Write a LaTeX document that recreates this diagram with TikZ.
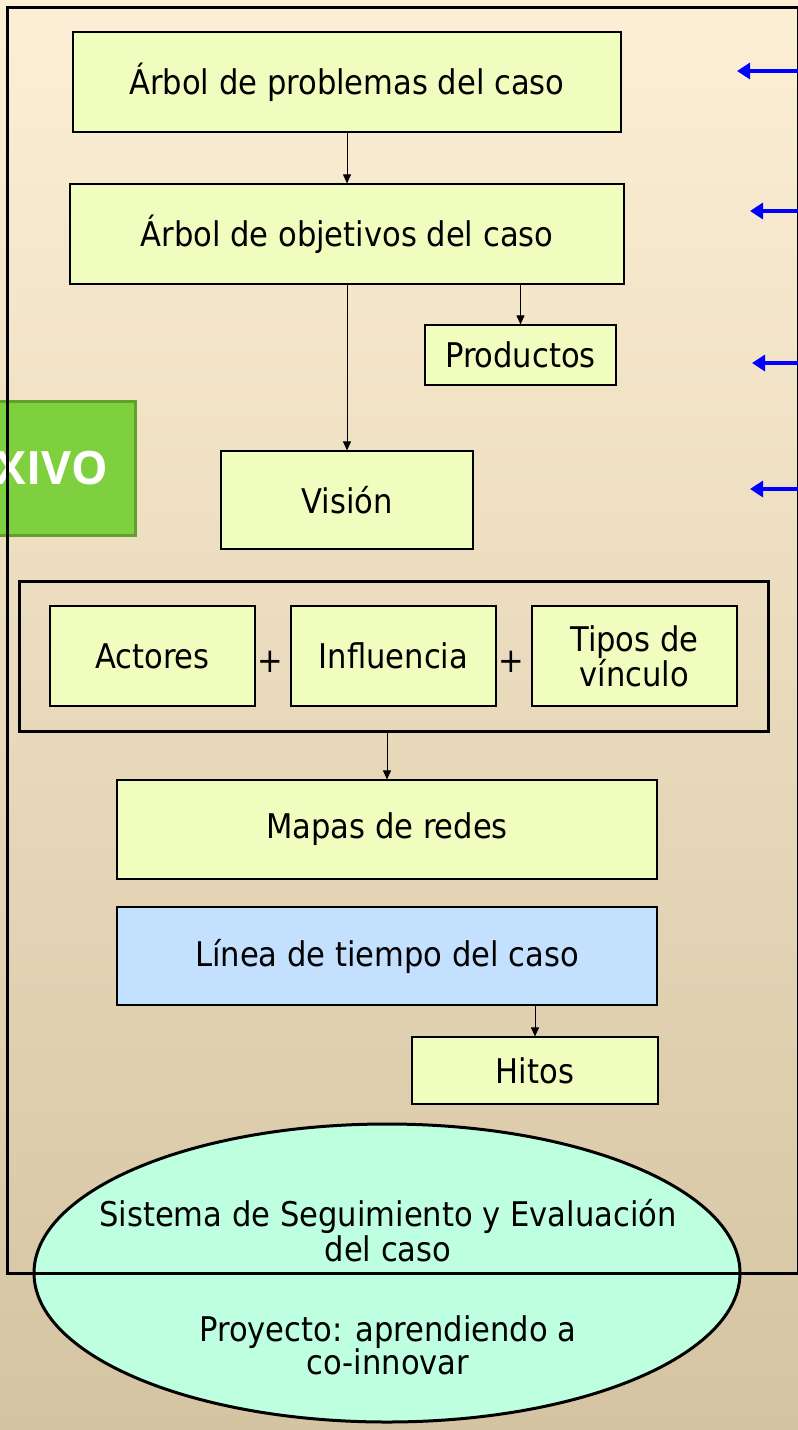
\documentclass[tikz,border=0pt]{standalone}
\usepackage{fontspec}
\setmainfont{DejaVu Sans Condensed}
\newfontfamily\greenfont{Open Sans}
\usetikzlibrary{arrows.meta,shapes.geometric}
\definecolor{bgtop}{RGB}{253,239,213}
\definecolor{bgbot}{RGB}{212,196,162}
\definecolor{boxfill}{RGB}{241,253,190}
\definecolor{bluefill}{RGB}{196,224,255}
\definecolor{ellfill}{RGB}{190,255,224}
\definecolor{greenfill}{RGB}{126,208,62}
\definecolor{greenline}{RGB}{98,160,44}
\begin{document}
\begin{tikzpicture}[x=1pt,y=-1pt,
  stepbox/.style={draw=black,line width=1.2pt,fill=boxfill,inner sep=0pt,align=center,
    font=\fontsize{34}{34}\selectfont},
  conn/.style={draw=black,line width=0.9pt,-{Triangle[length=9pt,width=8pt]}},
  bluearrow/.style={draw=blue,line width=3.2pt,-{Triangle[length=13pt,width=16pt]}},
  plus/.style={font=\fontsize{34}{34}\selectfont,inner sep=0pt}]
\useasboundingbox (0,0) rectangle (798,1430);
\shade[top color=bgtop,bottom color=bgbot] (0,0) rectangle (798,1430);
% green box (cut at left edge)
\begin{scope}
\clip (0,0) rectangle (798,1430);
\node[draw=greenline,line width=3pt,fill=greenfill,minimum width=170pt,minimum height=134pt,inner sep=0pt] (green) at (50,468) {};
\node[anchor=east,text=white,inner sep=0pt,font=\greenfont\bfseries\fontsize{46}{50}\selectfont] (xivo) at (108,468) {XIVO};
\end{scope}
% boxes
\node[stepbox,minimum width=548pt,minimum height=100pt] (b1) at (347,82) {Árbol de problemas del caso};
\node[stepbox,minimum width=554pt,minimum height=100pt] (b2) at (347,234) {Árbol de objetivos del caso};
\node[stepbox,minimum width=191pt,minimum height=60pt] (prod) at (520.5,355) {Productos};
\node[stepbox,minimum width=252pt,minimum height=98pt] (vis) at (347,500) {Visión};
\node[draw=black,line width=3pt,minimum width=749pt,minimum height=150pt,inner sep=0pt] (grp) at (393.5,656) {};
\node[stepbox,minimum width=205pt,minimum height=100pt] (act) at (152.5,656) {Actores};
\node[stepbox,minimum width=205pt,minimum height=100pt] (inf) at (393.5,656) {Influencia};
\node[stepbox,minimum width=205pt,minimum height=100pt] (tip) at (634.5,656) {Tipos de\\vínculo};
\node[plus] (p1) at (270,662) {+};
\node[plus] (p2) at (511,662) {+};
\node[stepbox,minimum width=540pt,minimum height=99pt] (map) at (387,829.5) {Mapas de redes};
\node[stepbox,fill=bluefill,minimum width=540pt,minimum height=98pt] (lin) at (387,956) {Línea de tiempo del caso};
\node[stepbox,minimum width=246pt,minimum height=67pt] (hit) at (535,1070.5) {Hitos};
% ellipse
\node[ellipse,draw=black,line width=3pt,fill=ellfill,minimum width=706pt,minimum height=298pt,inner sep=0pt] (ell) at (387,1273) {};
\node[align=center,inner sep=0pt,font=\fontsize{34}{35}\selectfont] (t1) at (388,1231) {Sistema de Seguimiento y Evaluación\\del caso};
\node[align=center,inner sep=0pt,font=\fontsize{34}{33}\selectfont] (t2) at (388,1345) {Proyecto: aprendiendo a\\co-innovar};
% outer frame
\node[draw=black,line width=3pt,minimum width=791pt,minimum height=1266pt,inner sep=0pt] (frame) at (402.5,640) {};
% connectors
\draw[conn] (b1.south) -- (b2.north);
\draw[conn] (b2.south -| prod.north) -- (prod.north);
\draw[conn] (b2.south) -- (vis.north);
\draw[conn] (grp.south -| map.north) -- (map.north);
\draw[conn] (lin.south -| hit.north) -- (hit.north);
% blue arrows
\coordinate (r1) at (frame.east |- 0,71);
\coordinate (r2) at (frame.east |- 0,211);
\coordinate (r3) at (frame.east |- 0,363);
\coordinate (r4) at (frame.east |- 0,489);
\coordinate (e1) at (737,71);
\coordinate (e2) at (750,211);
\coordinate (e3) at (752,363);
\coordinate (e4) at (750,489);
\draw[bluearrow] (r1) -- (e1);
\draw[bluearrow] (r2) -- (e2);
\draw[bluearrow] (r3) -- (e3);
\draw[bluearrow] (r4) -- (e4);
\end{tikzpicture}
\end{document}
